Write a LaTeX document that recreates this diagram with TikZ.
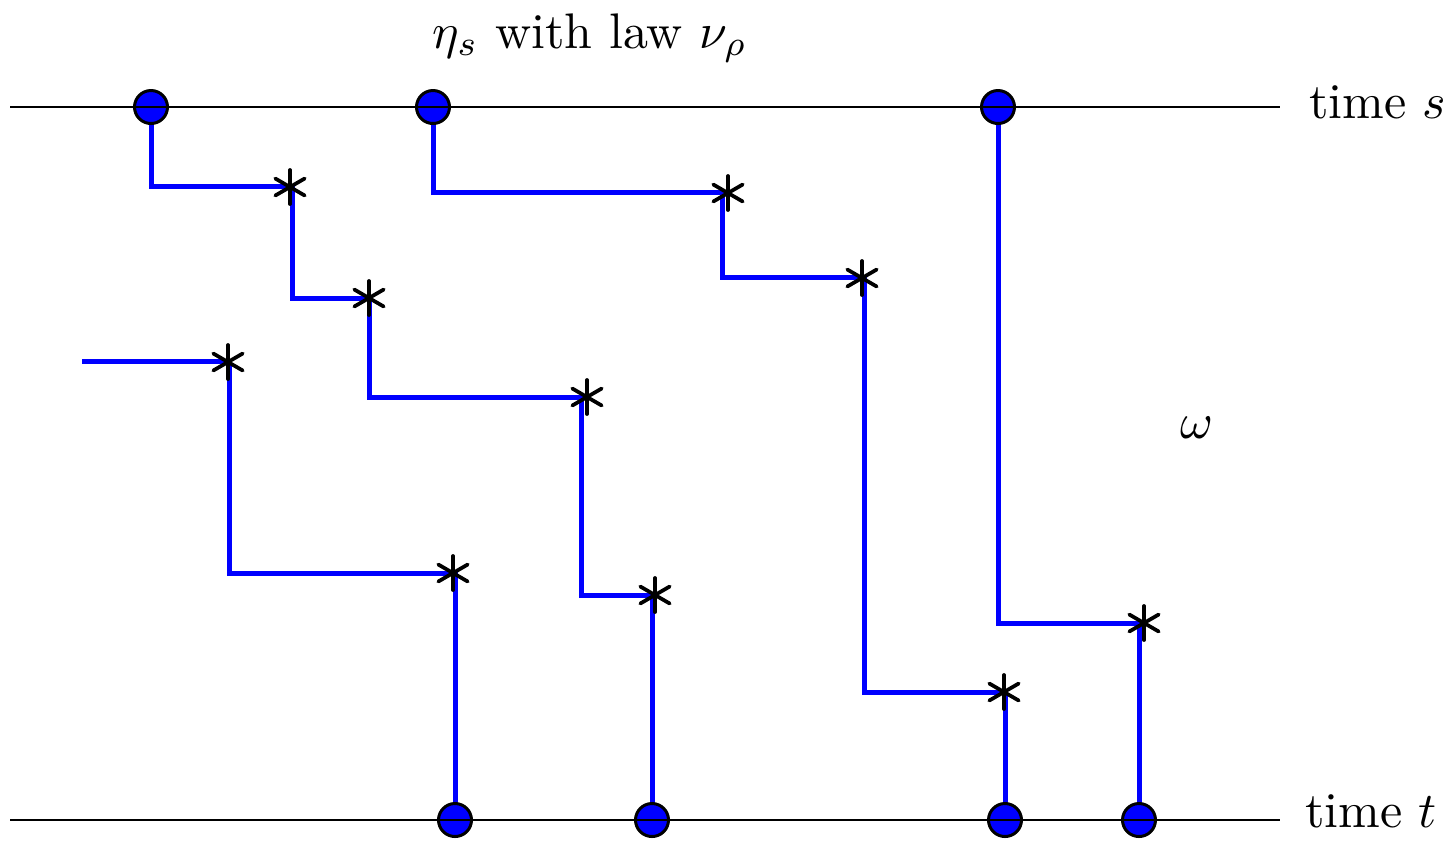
\documentclass[tikz,border=0pt]{standalone}
\usetikzlibrary{backgrounds}
\begin{document}
\begin{tikzpicture}[x=0.2pt,y=-0.2pt,
  dot/.style={circle,fill=blue,draw=black,line width=0.6pt,minimum size=6.6pt,inner sep=0pt},
  starnode/.style={inner sep=0pt,minimum size=0pt},
  starline/.style={black,line width=0.75pt,line cap=round},
  walk/.style={blue,line width=1.0pt},
  timeline/.style={black,line width=0.3pt},
  lbl/.style={inner sep=0pt,font=\normalsize}]
\useasboundingbox (0,0) rectangle (1456,845);
% dots
\node[dot] (d1) at (151,107) {};
\node[dot] (d2) at (433,107) {};
\node[dot] (d3) at (998,107) {};
\node[dot] (b1) at (455,820) {};
\node[dot] (b2) at (652,820) {};
\node[dot] (b3) at (1005,820) {};
\node[dot] (b4) at (1139,820) {};
% time lines
\coordinate (tsl) at (10,107);
\coordinate (tsr) at (1280,107);
\coordinate (ttl) at (10,820);
\coordinate (ttr) at (1280,820);
\draw[timeline] (tsl) -- (tsr);
\draw[timeline] (ttl) -- (ttr);
% corners of the walks
\coordinate (k1) at (292,186);
\coordinate (k2) at (369,298);
\coordinate (k3) at (581,397);
\coordinate (k4) at (652,595);
\coordinate (k5) at (722,192);
\coordinate (k6) at (864,277);
\coordinate (k7) at (1005,692);
\coordinate (k8) at (229,361);
\coordinate (k9) at (455,573);
\coordinate (k10) at (1139,623);
\coordinate (c0) at (82,361);
% stars
\node[starnode] (s1) at (290,187) {};
\node[starnode] (s2) at (369,298) {};
\node[starnode] (s3) at (587,397) {};
\node[starnode] (s4) at (655,595) {};
\node[starnode] (s5) at (728,193) {};
\node[starnode] (s6) at (862,278) {};
\node[starnode] (s7) at (1004,692) {};
\node[starnode] (s8) at (228,362) {};
\node[starnode] (s9) at (453,573) {};
\node[starnode] (s10) at (1144,623) {};
\foreach \s in {s1,s2,s3,s4,s5,s6,s7,s8,s9,s10}{
  \draw[starline] (\s.center) ++(0,-17) -- ++(0,34);
  \draw[starline] (\s.center) ++(-14.7,-8.5) -- ++(29.4,17);
  \draw[starline] (\s.center) ++(-14.7,8.5) -- ++(29.4,-17);
}
% walks
\begin{scope}[on background layer]
\draw[walk] (d1.center) |- (k1) |- (k2) |- (k3) |- (k4) -- (b2.center);
\draw[walk] (d2.center) |- (k5) |- (k6) |- (k7) -- (b3.center);
\draw[walk] (c0) -- (k8) |- (k9) -- (b1.center);
\draw[walk] (d3.center) |- (k10) -- (b4.center);
\end{scope}
% labels
\node[lbl,anchor=base] (title) at (590,48) {$\eta_s$ with law $\nu_\rho$};
\node[lbl,anchor=base west] (ls) at (1308,118) {time $s$};
\node[lbl,anchor=base west] (lt) at (1304,827) {time $t$};
\node[lbl] (om) at (1197,428) {$\omega$};
\end{tikzpicture}
\end{document}
